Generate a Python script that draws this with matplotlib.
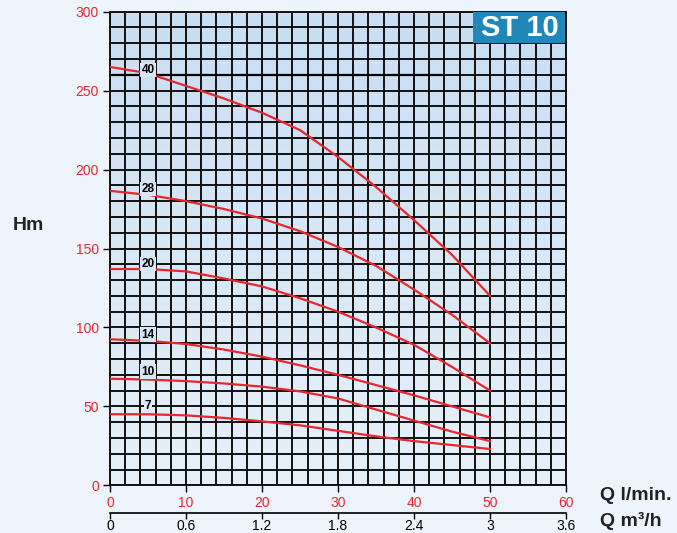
import numpy as np
import matplotlib.pyplot as plt
from matplotlib.colors import LinearSegmentedColormap
from matplotlib.ticker import MultipleLocator, FixedLocator, FixedFormatter

# flow (l/min) and head (m)
q_lmin = [0, 5, 10, 15, 20, 25, 30, 35, 40, 45, 50]
h_40 = [265, 261, 253, 245, 236, 225, 208, 189, 168, 146, 120]
h_28 = [186.5, 184, 180, 175, 169, 161, 151, 139, 124, 108, 90]
h_20 = [137, 137, 135.5, 131, 126, 118.5, 110, 100, 89, 75, 60]
h_14 = [92.5, 91.5, 89.5, 86, 81.5, 76, 70, 63.5, 57, 50, 43]
h_10 = [67.5, 67, 66, 64.5, 62.5, 59.5, 55, 48, 41, 34, 28]
h_7 = [45, 45, 44.3, 42.7, 40.5, 38, 34.5, 31, 28, 25.5, 23]

curves = [h_40, h_28, h_20, h_14, h_10, h_7]
stage_labels = ['40', '28', '20', '14', '10', '7']
label_y = [263, 187.5, 140, 95.5, 72, 50.5]

m3h_ticks = [0, 0.6, 1.2, 1.8, 2.4, 3, 3.6]
m3h_labels = ['0', '0.6', '1.2', '1.8', '2.4', '3', '3.6']

RED = '#e8262d'
BG = '#eef4fb'
plt.rcParams['font.family'] = ['Liberation Sans', 'DejaVu Sans']

fig = plt.figure(figsize=(6.77, 5.33), dpi=100, facecolor=BG)
ax = fig.add_axes([110/677, 1-485.3/533, 456/677, 473.6/533])

cmap = LinearSegmentedColormap.from_list('bg', ['#e6f0f9', '#c9def2'])
grad = np.linspace(0, 1, 256).reshape(-1, 1)
ax.imshow(grad, extent=[0, 60, 0, 300], origin='lower', aspect='auto',
          cmap=cmap, zorder=0)

ax.set_xlim(0, 60)
ax.set_ylim(0, 300)
ax.xaxis.set_major_locator(MultipleLocator(10))
ax.xaxis.set_minor_locator(MultipleLocator(2))
ax.yaxis.set_major_locator(MultipleLocator(50))
ax.yaxis.set_minor_locator(MultipleLocator(10))
ax.grid(which='both', color='#111111', linewidth=1.4, zorder=1)
ax.tick_params(which='minor', length=0)
ax.tick_params(which='major', length=5, width=1, colors='black',
               labelcolor=RED, labelsize=10, pad=3)
for s in ax.spines.values():
    s.set_color('#111111')
    s.set_linewidth(1.4)

# thick reference line at 260 m
ax.plot([0, 43.6], [260, 260], color='black', linewidth=1.6, zorder=2)

for h, lab, ly in zip(curves, stage_labels, label_y):
    ax.plot(q_lmin, h, color=RED, linewidth=1.6, zorder=3)
    ax.text(5.0, ly, lab, fontsize=8.5, fontweight='bold', ha='center',
            va='center', zorder=4,
            bbox=dict(boxstyle='square,pad=0.1', fc='#d8e7f5', ec='none'))

# m3/h axis
sec = ax.secondary_xaxis(-0.0585, functions=(lambda x: x * 0.06,
                                             lambda x: x / 0.06))
sec.xaxis.set_major_locator(FixedLocator(m3h_ticks))
sec.xaxis.set_major_formatter(FixedFormatter(m3h_labels))
sec.tick_params(length=4, width=1, labelsize=10, colors='black', pad=0.5)
sec.spines['bottom'].set_linewidth(1.2)

fig.text(28/677, 1-225/533, 'Hm', fontsize=14, fontweight='bold',
         ha='center', va='center', color='#222222')
fig.text(600/677, 1-496/533, 'Q l/min.', fontsize=14, fontweight='bold',
         ha='left', va='center', color='#222222')
fig.text(600/677, 1-521/533, 'Q m\u00b3/h', fontsize=14, fontweight='bold',
         ha='left', va='center', color='#222222')

# model badge
fig.patches.append(plt.Rectangle((473/677, 1-43/533), 92/677, 31/533,
                                 transform=fig.transFigure,
                                 facecolor='#2187b9', edgecolor='none',
                                 zorder=5))
fig.text(519.5/677, 1-27.5/533, 'ST 10', fontsize=21, fontweight='bold',
         color='white', ha='center', va='center', zorder=6)

fig.savefig('out.png', dpi=100, facecolor=BG)
